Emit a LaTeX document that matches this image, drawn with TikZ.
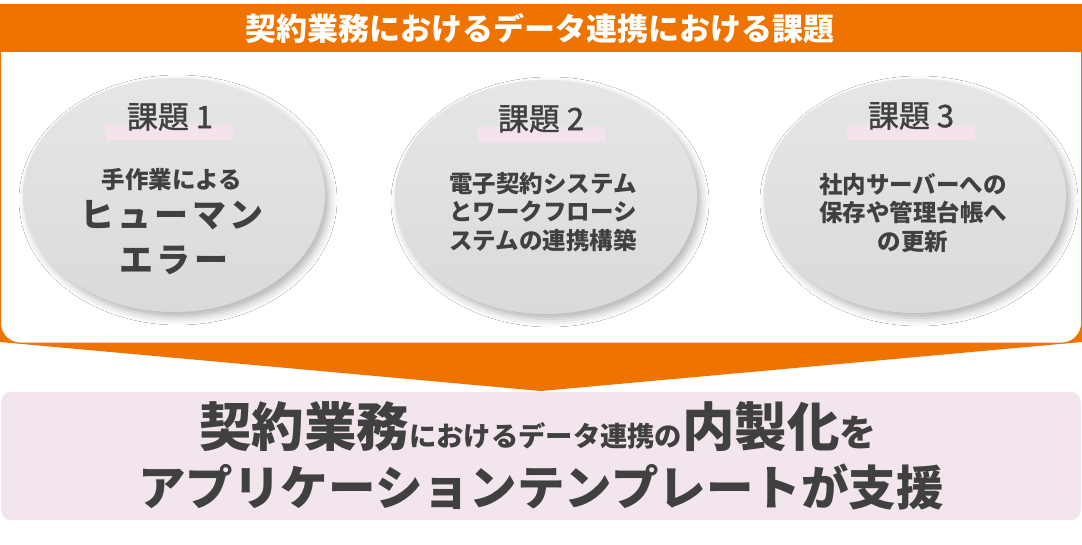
\documentclass[tikz,border=0pt]{standalone}
\usepackage{fontspec}
\newfontfamily\jp{Noto Sans CJK JP}
\newfontfamily\jpm{Noto Sans CJK JP}[FakeBold=1.2]
\usetikzlibrary{shadows.blur,shapes.geometric}
\definecolor{orng}{HTML}{EF7300}
\definecolor{pinkbg}{HTML}{F3E5ED}
\definecolor{pinkbar}{HTML}{F4E3EC}
\definecolor{txt}{HTML}{404040}
\definecolor{elltop}{HTML}{E6E6E6}
\definecolor{ellbot}{HTML}{DADADA}
\begin{document}
\begin{tikzpicture}[x=1pt,y=-1pt,
  ell/.style={ellipse, minimum width=302pt, minimum height=234pt, inner sep=0pt,
    top color=elltop, bottom color=ellbot, draw=none,
    blur shadow={shadow xshift=4pt, shadow yshift=-5pt, shadow blur radius=8pt, shadow opacity=30}},
  hdrtext/.style={text=white, font=\jp\bfseries\fontsize{31}{34}\selectfont, inner sep=0pt},
  ttl/.style={text=txt, font=\jpm\fontsize{31}{34}\selectfont, inner sep=0pt},
  body/.style={text=txt, font=\jp\bfseries\fontsize{23.5}{28.5}\selectfont, align=center, inner sep=0pt},
  big/.style={text=txt, font=\jp\bfseries\fontsize{34}{40}\selectfont\addfontfeature{LetterSpace=10}, inner sep=0pt},
  concl/.style={text=txt, font=\jp\bfseries, inner sep=0pt}
]
\useasboundingbox (0,0) rectangle (1082,545);
\fill[white] (0,0) rectangle (1082,545);
% orange chevron behind the box
\fill[orng] (0,300) -- (1082,300) -- (1082,342) -- (541,391) -- (0,342) -- cycle;
% white box
\filldraw[fill=white, draw=orng, line width=0.8pt, rounded corners=20pt]
  (0.5,40) -- (0.5,343) -- (1081.5,343) -- (1081.5,40);
% header bar
\fill[orng] (0,4) rectangle (1082,52);
\node[hdrtext] (hdr) at (540,28) {契約業務におけるデータ連携における課題};
% ellipses
\node[ell] (e1) at (174,195) {};
\node[ell] (e2) at (546,197) {};
\node[ell] (e3) at (915,196) {};
% title bars
\fill[pinkbar] (106,125) rectangle (233,140);
\fill[pinkbar] (477,127) rectangle (605,142);
\fill[pinkbar] (847,125) rectangle (975,140);
\node[ttl] (t1) at (170,117) {課題 1};
\node[ttl] (t2) at (541,119) {課題 2};
\node[ttl] (t3) at (911,116) {課題 3};
% ellipse texts
\node[body] (b1a) at (172,180) {手作業による};
\node[big] (b1b) at (172,215) {ヒューマン};
\node[big] (b1c) at (174,260) {エラー};
\node[body] (b2) at (543,212) {電子契約システム\\とワークフローシ\\ステムの連携構築};
\node[body] (b3) at (913,213) {社内サーバーへの\\保存や管理台帳へ\\の更新};
% conclusion box
\fill[pinkbg, rounded corners=10pt] (1,392) rectangle (1081,520);
\node[concl] (c1) at (538,427) {{\fontsize{52.5}{56}\selectfont 契約業務}{\fontsize{27.3}{30}\selectfont におけるデータ連携の}{\fontsize{52.5}{56}\selectfont 内製化}{\fontsize{37}{40}\selectfont を}};
\node[concl] (c2) at (541,487) {\fontsize{47.5}{52}\selectfont アプリケーションテンプレートが支援};
\end{tikzpicture}
\end{document}
